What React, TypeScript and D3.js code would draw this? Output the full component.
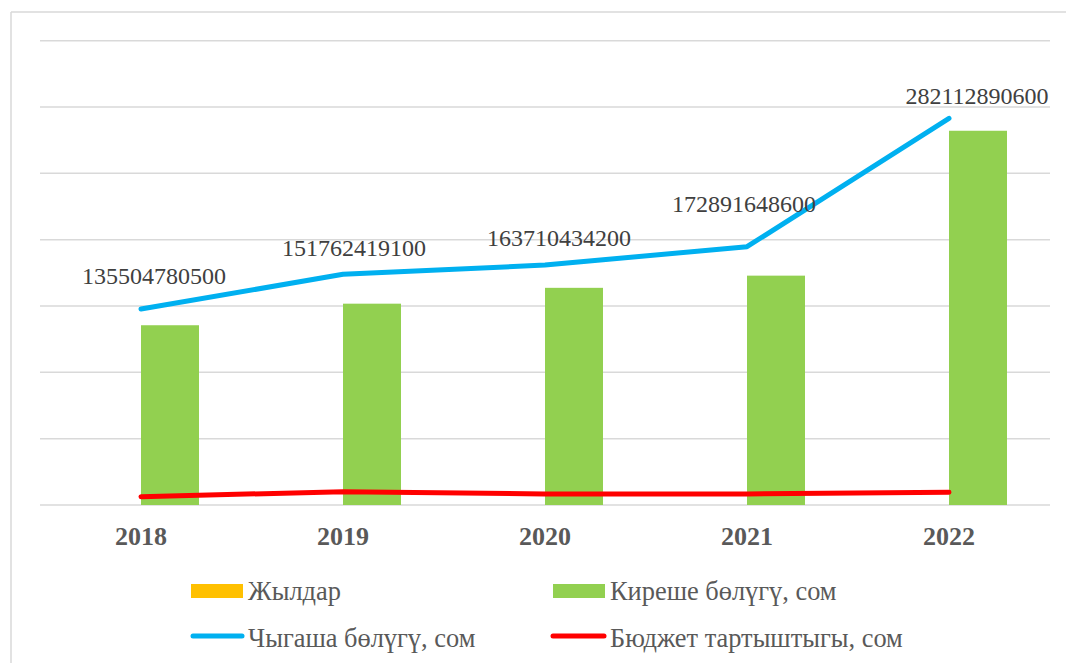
import React from 'react';
import * as d3 from 'd3';

// Budget chart: income bars, expense line, deficit line (values in som).

const years = ['2018', '2019', '2020', '2021', '2022'];
const yearValues = [2018, 2019, 2020, 2021, 2022];
const income = [135504780500, 151762419100, 163710434200, 172891648600, 282112890600];
const expense = [147.7e9, 173.9e9, 180.9e9, 194.7e9, 291.5e9];
const deficit = [6.3e9, 10.0e9, 8.3e9, 8.3e9, 9.6e9];
const dataLabels = ['135504780500', '151762419100', '163710434200', '172891648600', '282112890600'];
const yTicks = [0, 50e9, 100e9, 150e9, 200e9, 250e9, 300e9, 350e9];

// manual label nudges (Excel-style dragged data labels)
const labelNudge = [
  [13, -25],
  [11, -18],
  [14, -19],
  [-3, -35],
  [28, -14],
];

const W = 1066;
const H = 663;
const plot = { left: 40, right: 1050, top: 40.7, bottom: 505 };

const C = {
  grid: '#d9d9d9',
  green: '#92D050',
  blue: '#00B0F0',
  red: '#FF0000',
  gold: '#FFC000',
  text: '#595959',
  label: '#404040',
};
const FONT = '"Liberation Serif", "Times New Roman", serif';

export default function App() {
  const x = d3.scaleBand<string>().domain(years).range([plot.left, plot.right]);
  const y = d3.scaleLinear().domain([0, 350e9]).range([plot.bottom, plot.top]);
  const cx = (i: number) => (x(years[i]) ?? 0) + x.bandwidth() / 2;
  const barW = 58;

  const line = d3
    .line<number>()
    .x((_, i) => cx(i))
    .y((d) => y(d));

  return (
    <svg
      width={W}
      height={H}
      viewBox={`0 0 ${W} ${H}`}
      style={{ position: 'absolute', left: 0, top: 0, background: '#fff' }}
    >
      {/* frame */}
      <line x1={11} y1={12} x2={W} y2={12} stroke={C.grid} strokeWidth={1.5} />
      <line x1={11} y1={12} x2={11} y2={H} stroke={C.grid} strokeWidth={1.5} />

      {/* gridlines */}
      {yTicks.map((t) => (
        <line
          key={t}
          x1={plot.left}
          x2={plot.right}
          y1={y(t)}
          y2={y(t)}
          stroke={C.grid}
          strokeWidth={1.5}
        />
      ))}

      {/* Жылдар bars (tiny on this scale) */}
      {yearValues.map((v, i) => (
        <rect
          key={'y' + i}
          x={cx(i) - barW}
          y={y(v)}
          width={barW}
          height={plot.bottom - y(v)}
          fill={C.gold}
        />
      ))}

      {/* income bars */}
      {income.map((v, i) => (
        <rect
          key={'b' + i}
          x={cx(i)}
          y={y(v)}
          width={barW}
          height={plot.bottom - y(v)}
          fill={C.green}
        />
      ))}

      {/* expense line */}
      <path
        d={line(expense) ?? ''}
        fill="none"
        stroke={C.blue}
        strokeWidth={5}
        strokeLinecap="round"
        strokeLinejoin="round"
      />

      {/* deficit line */}
      <path
        d={line(deficit) ?? ''}
        fill="none"
        stroke={C.red}
        strokeWidth={5}
        strokeLinecap="round"
        strokeLinejoin="round"
      />

      {/* data labels */}
      {dataLabels.map((s, i) => (
        <text
          key={'l' + i}
          x={cx(i) + labelNudge[i][0]}
          y={y(expense[i]) + labelNudge[i][1]}
          textAnchor="middle"
          fontFamily={FONT}
          fontSize={24}
          fill={C.label}
        >
          {s}
        </text>
      ))}

      {/* x axis labels */}
      {years.map((yr, i) => (
        <text
          key={yr}
          x={cx(i)}
          y={545}
          textAnchor="middle"
          fontFamily={FONT}
          fontSize={26}
          fontWeight="bold"
          fill={C.text}
        >
          {yr}
        </text>
      ))}

      {/* legend */}
      <g fontFamily={FONT} fontSize={26.4} fill={C.text}>
        <rect x={191} y={584} width={52} height={14} fill={C.gold} />
        <text x={248} y={600}>Жылдар</text>

        <rect x={553} y={584} width={52} height={14} fill={C.green} />
        <text x={610} y={600}>Киреше бөлүгү, сом</text>

        <line x1={193} x2={242} y1={636} y2={636} stroke={C.blue} strokeWidth={5} strokeLinecap="round" />
        <text x={248} y={647}>Чыгаша бөлүгү, сом</text>

        <line x1={553} x2={604} y1={636} y2={636} stroke={C.red} strokeWidth={5} strokeLinecap="round" />
        <text x={610} y={647}>Бюджет тартыштыгы, сом</text>
      </g>
    </svg>
  );
}
